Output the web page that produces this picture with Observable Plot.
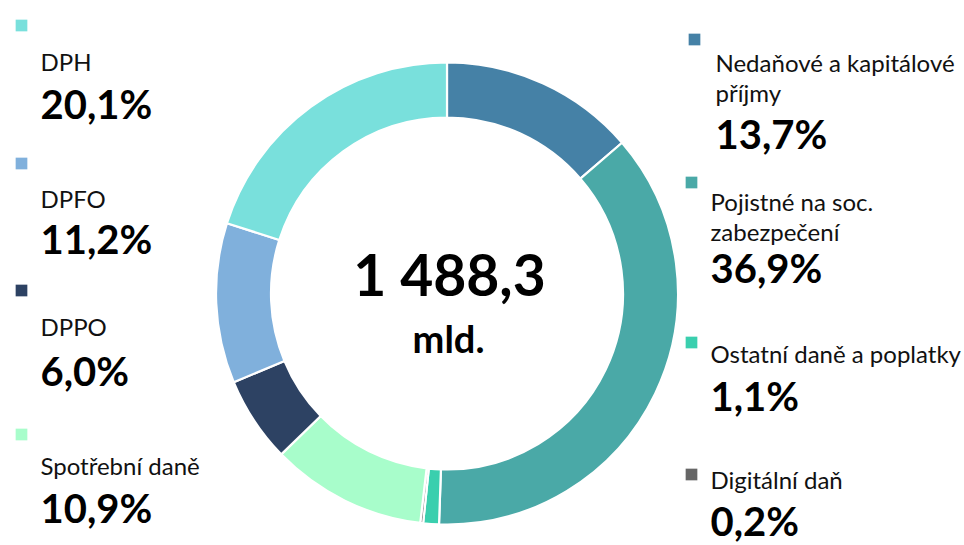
<!DOCTYPE html>
<html>
<head>
<meta charset="utf-8">
<script src="https://cdn.jsdelivr.net/npm/d3@7"></script>
<script src="https://cdn.jsdelivr.net/npm/@observablehq/plot@0.6"></script>
<style>
  html, body { margin: 0; padding: 0; background: #fff; }
  #chart svg { display: block; }
</style>
</head>
<body>
<div id="chart"></div>
<script>
// ---- data ----
const categories = [
  "Nedaňové a kapitálové\npříjmy",
  "Pojistné na soc.\nzabezpečení",
  "Ostatní daně a poplatky",
  "Digitální daň",
  "Spotřební daně",
  "DPPO",
  "DPFO",
  "DPH"
];
const shares = [13.7, 36.9, 1.1, 0.2, 10.9, 6.0, 11.2, 20.1];
const colors = ["#4581a6", "#4aa9a7", "#3acfae", "#666666", "#a8fdcb", "#2d4263", "#80b0dc", "#79e0dc"];
const totalLabel = "1 488,3";
const unitLabel = "mld.";

// ---- layout (legend anchor positions, not data) ----
// ly = baseline of the label's last line, vy = baseline of the value
const legendLayout = [
  {sx: 694, sy: 39,  tx: 715, ly: 101, vy: 148},
  {sx: 691, sy: 182, tx: 710, ly: 240, vy: 282},
  {sx: 691, sy: 342, tx: 710, ly: 362, vy: 410},
  {sx: 691, sy: 474, tx: 710, ly: 488, vy: 535},
  {sx: 21,  sy: 434, tx: 40,  ly: 474, vy: 522},
  {sx: 21,  sy: 290, tx: 40,  ly: 335, vy: 385},
  {sx: 21,  sy: 163, tx: 40,  ly: 207, vy: 253},
  {sx: 21,  sy: 25,  tx: 40,  ly: 70,  vy: 118}
];

const fmt = v => v.toFixed(1).replace(".", ",") + "%";
const rows = categories.map((c, i) => ({
  name: c,
  share: shares[i],
  color: colors[i],
  label: fmt(shares[i]),
  ...legendLayout[i]
}));

const W = 964, H = 545;
const center = {x: 447, y: 293.5};
const rOuter = 231, rInner = 176;

function donut(index, scales) {
  const cx = scales.x(center.x), cy = scales.y(center.y);
  const pie = d3.pie().sort(null).value(d => d.share)(rows);
  const arc = d3.arc().innerRadius(rInner).outerRadius(rOuter);
  const g = d3.create("svg:g").attr("transform", `translate(${cx},${cy})`);
  g.selectAll("path").data(pie).join("path")
    .attr("d", arc)
    .attr("fill", d => d.data.color)
    .attr("stroke", "#fff")
    .attr("stroke-width", 2.2)
    .attr("stroke-linejoin", "round");
  return g.node();
}

const font = "Lato, 'Open Sans', sans-serif";

const chart = Plot.plot({
  width: W,
  height: H,
  margin: 0,
  style: {fontFamily: font, background: "#fff", color: "#000"},
  x: {domain: [0, W], range: [0, W], axis: null},
  y: {domain: [0, H], range: [0, H], axis: null},
  marks: [
    donut,
    Plot.text([totalLabel], {x: center.x + 2, y: 295, text: d => d, fontSize: 57, fontWeight: "bold", lineAnchor: "bottom", fill: "#000"}),
    Plot.text([unitLabel], {x: center.x + 1, y: 352, text: d => d, fontSize: 38, fontWeight: "bold", lineAnchor: "bottom", fill: "#000"}),
    Plot.dot(rows, {x: "sx", y: "sy", symbol: "square", r: 6.6, fill: "color", stroke: null}),
    Plot.text(rows, {x: "tx", y: "ly", text: "name", textAnchor: "start", lineAnchor: "bottom", fontSize: 24, lineHeight: 1.24, fill: "#111"}),
    Plot.text(rows, {x: "tx", y: "vy", text: "label", textAnchor: "start", lineAnchor: "bottom", fontSize: 40, fontWeight: "bold", fill: "#000"})
  ]
});
document.getElementById("chart").appendChild(chart);
</script>
</body>
</html>
